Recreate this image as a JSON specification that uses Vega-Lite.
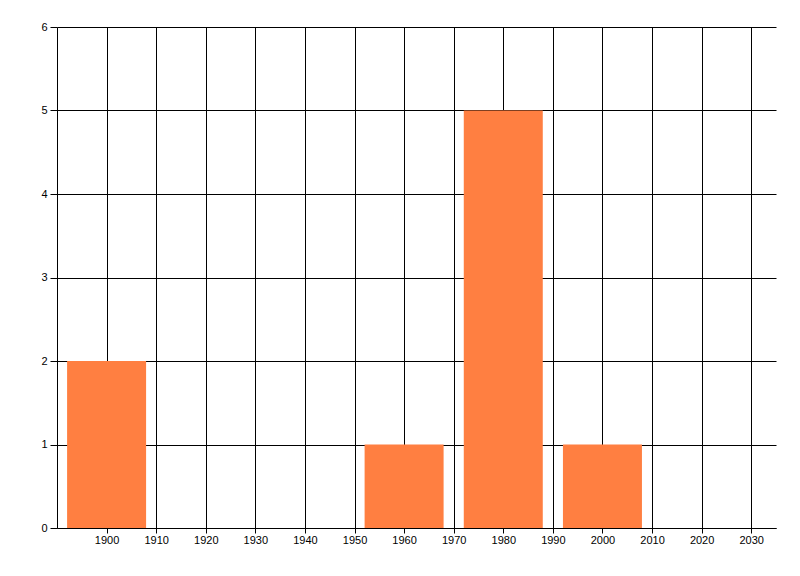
{
  "$schema": "https://vega.github.io/schema/vega-lite/v6.json",
  "autosize": "none",
  "width": 719,
  "height": 501,
  "padding": {"left": 57, "top": 27, "right": 24, "bottom": 48},
  "background": "white",
  "config": {
    "view": {"stroke": null},
    "axis": {
      "labelFont": "Liberation Sans",
      "labelFontSize": 11,
      "labelColor": "#000000",
      "domainColor": "#000000",
      "domainWidth": 1,
      "tickColor": "#000000",
      "gridColor": "#000000",
      "gridWidth": 1,
      "gridOpacity": 1,
      "title": null
    }
  },
  "data": {
    "values": [
      {"year": 1900, "count": 2},
      {"year": 1960, "count": 1},
      {"year": 1980, "count": 5},
      {"year": 2000, "count": 1}
    ]
  },
  "mark": {"type": "bar", "color": "#FF7F41", "width": 79, "opacity": 1},
  "encoding": {
    "x": {
      "field": "year",
      "type": "quantitative",
      "scale": {"domain": [1890, 2035], "nice": false, "zero": false, "padding": 0},
      "axis": {
        "values": [1900, 1910, 1920, 1930, 1940, 1950, 1960, 1970, 1980, 1990, 2000, 2010, 2020, 2030],
        "format": "d",
        "grid": true,
        "tickSize": 5,
        "labelPadding": 1,
        "labelFlush": false,
        "labelOverlap": false
      }
    },
    "y": {
      "field": "count",
      "type": "quantitative",
      "scale": {"domain": [0, 6], "nice": false, "padding": 0},
      "axis": {
        "values": [0, 1, 2, 3, 4, 5, 6],
        "grid": true,
        "tickSize": 7,
        "labelPadding": 3,
        "labelFlush": false,
        "labelOverlap": false
      }
    }
  }
}
